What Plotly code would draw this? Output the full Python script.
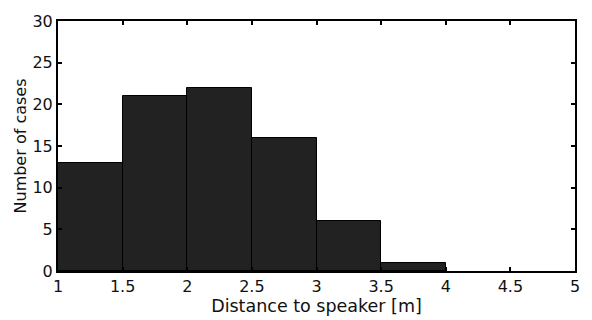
import plotly.graph_objects as go

bin_starts = [1.0, 1.5, 2.0, 2.5, 3.0, 3.5, 4.0, 4.5]
bin_width = 0.5
counts = [13, 21, 22, 16, 6, 1, 0, 0]
x_ticks = [1, 1.5, 2, 2.5, 3, 3.5, 4, 4.5, 5]
x_tick_labels = ["1", "1.5", "2", "2.5", "3", "3.5", "4", "4.5", "5"]
y_ticks = [0, 5, 10, 15, 20, 25, 30]

centers = [s + bin_width / 2 for s in bin_starts]
edge_widths = [1 if c > 0 else 0 for c in counts]

fig = go.Figure()
fig.add_trace(go.Bar(
    x=centers, y=counts, width=[bin_width] * len(counts),
    marker=dict(color="#222222", line=dict(color="#000000", width=edge_widths)),
    showlegend=False,
))

font = dict(family="DejaVu Sans, Liberation Sans, sans-serif", size=16, color="#111111")
xfont = dict(family="DejaVu Sans, Liberation Sans, sans-serif", size=17.5, color="#111111")
fig.update_layout(
    width=592, height=320,
    margin=dict(l=58, r=13, t=14, b=46),
    paper_bgcolor="white", plot_bgcolor="white",
    font=font,
    bargap=0,
    xaxis=dict(
        range=[1, 5], tickvals=x_ticks, ticktext=x_tick_labels,
        ticks="inside", ticklen=4, tickwidth=1.5, tickcolor="black",
        showline=True, linecolor="black", linewidth=2, mirror="ticks",
        showgrid=False, zeroline=False, tickfont=font,
        title=dict(text="Distance to speaker [m]", standoff=0, font=xfont),
    ),
    yaxis=dict(
        range=[0, 30], tickvals=y_ticks,
        ticks="inside", ticklen=4, tickwidth=1.5, tickcolor="black",
        showline=True, linecolor="black", linewidth=2, mirror="ticks",
        showgrid=False, zeroline=False, tickfont=font,
        title=dict(text="Number of cases", standoff=2, font=font),
    ),
)
fig.write_html("out.html")
